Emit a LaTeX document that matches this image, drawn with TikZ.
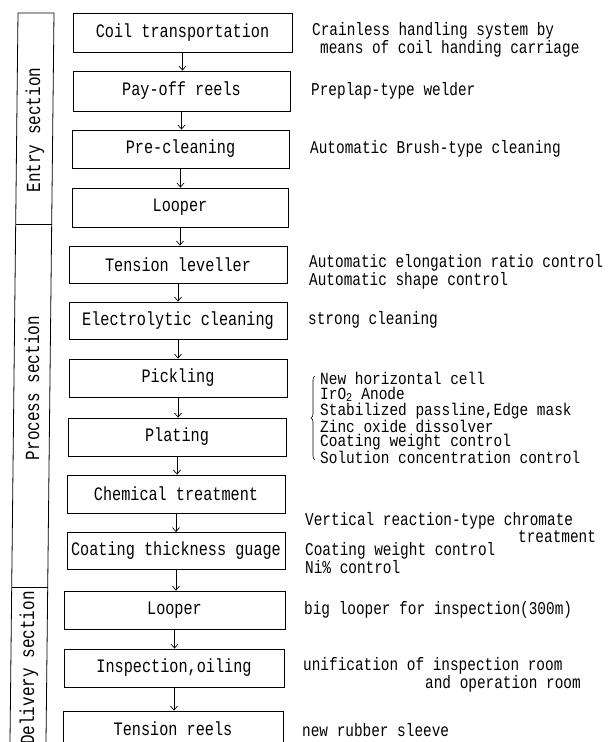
\documentclass[tikz,border=0pt]{standalone}
\usepackage{fontspec}
\newfontfamily\monofam[FakeStretch=0.8]{Liberation Mono}
\newfontfamily\monolist[FakeStretch=0.85]{Liberation Mono}
\usetikzlibrary{arrows.meta,decorations.pathreplacing}
\begin{document}
\begin{tikzpicture}[x=1pt,y=-1pt,
  stepbox/.style={draw, line width=0.8pt, inner sep=2pt, font=\monofam\fontsize{19}{20}\selectfont},
  desc/.style={anchor=west, align=left, inner sep=0pt, font=\monofam\fontsize{18}{14}\selectfont},
  desclist/.style={desc, font=\monolist\fontsize{17}{14.8}\selectfont},
  flow/.style={-{Straight Barb[length=4pt,width=7pt]}, line width=0.7pt},
  seclab/.style={rotate=90, inner sep=0pt, font=\monofam\fontsize{20}{20}\selectfont},
  secline/.style={line width=0.8pt}]
\useasboundingbox (0,0) rectangle (615,742);
\clip (0,0) rectangle (615,742);

% section column
\draw[secline] (10,742) -- (18,13) -- (54,13) -- (46,742);
\draw[secline] (15.7,224) -- (51.7,224);
\draw[secline] (11.7,587) -- (47.7,587);
\node[seclab] (sEntry) at (35,130) {Entry section};
\node[seclab] (sProc) at (32,388) {Process section};
\node[seclab] (sDel) at (29,668) {Delivery section};

% process boxes
\node[stepbox, minimum width=219pt, minimum height=39pt] (b1) at (182.5,32.5) {Coil transportation};
\node[stepbox, minimum width=217pt, minimum height=40pt] (b2) at (181.5,91) {Pay-off reels};
\node[stepbox, minimum width=217pt, minimum height=38pt] (b3) at (180.5,149) {Pre-cleaning};
\node[stepbox, minimum width=216pt, minimum height=39pt] (b4) at (180,207.5) {Looper};
\node[stepbox, minimum width=218pt, minimum height=37pt] (b5) at (178,264.5) {Tension leveller};
\node[stepbox, minimum width=218pt, minimum height=37pt] (b6) at (178,320.5) {Electrolytic cleaning};
\node[stepbox, minimum width=218pt, minimum height=38pt] (b7) at (178,378) {Pickling};
\node[stepbox, minimum width=218pt, minimum height=38pt] (b8) at (177,437) {Plating};
\node[stepbox, minimum width=218pt, minimum height=38pt] (b9) at (176,494) {Chemical treatment};
\node[stepbox, minimum width=218pt, minimum height=37pt] (b10) at (176,551) {Coating thickness guage};
\node[stepbox, minimum width=221pt, minimum height=38pt] (b11) at (174.5,610) {Looper};
\node[stepbox, minimum width=220pt, minimum height=38pt] (b12) at (174,668) {Inspection,oiling};
\node[stepbox, minimum width=220pt, minimum height=36pt] (b13) at (173,729) {Tension reels};

% connectors
\foreach \a/\b in {b1/b2,b2/b3,b3/b4,b4/b5,b5/b6,b6/b7,b7/b8,b8/b9,b9/b10,b10/b11,b11/b12,b12/b13}
  \draw[flow] (\a.south) -- (\a.south |- \b.north);

% descriptions
\node[desc] (d1) at (312,40) {Crainless handling system by\\\hspace*{8pt}means of coil handing carriage};
\node[desc] (d2) at (311,91) {Preplap-type welder};
\node[desc] (d3) at (310,149) {Automatic Brush-type cleaning};
\node[desc] (d5) at (309,272) {Automatic elongation ratio control\\Automatic shape control};
\node[desc] (d6) at (308,320) {strong cleaning};
\node[desclist] (d7) at (320,418) {New horizontal cell\\IrO\textsubscript{2} Anode\\Stabilized passline,Edge mask\\Zinc oxide dissolver\\Coating weight control\\Solution concentration control};
\draw[decorate, decoration={brace, amplitude=4pt}, line width=0.6pt] (315,460) -- (315,376);
\node[desc] (d9) at (305,527.5) {Vertical reaction-type chromate\\\hspace*{213pt}treatment};
\node[desc] (d10) at (305,558) {Coating weight control\\Ni\% control};
\node[desc] (d11) at (304,610) {big looper for inspection(300m)};
\node[desc] (d12) at (303,675) {unification of inspection room\\\hspace*{122pt}and operation room};
\node[desc] (d13) at (302,730) {new rubber sleeve};
\end{tikzpicture}
\end{document}
